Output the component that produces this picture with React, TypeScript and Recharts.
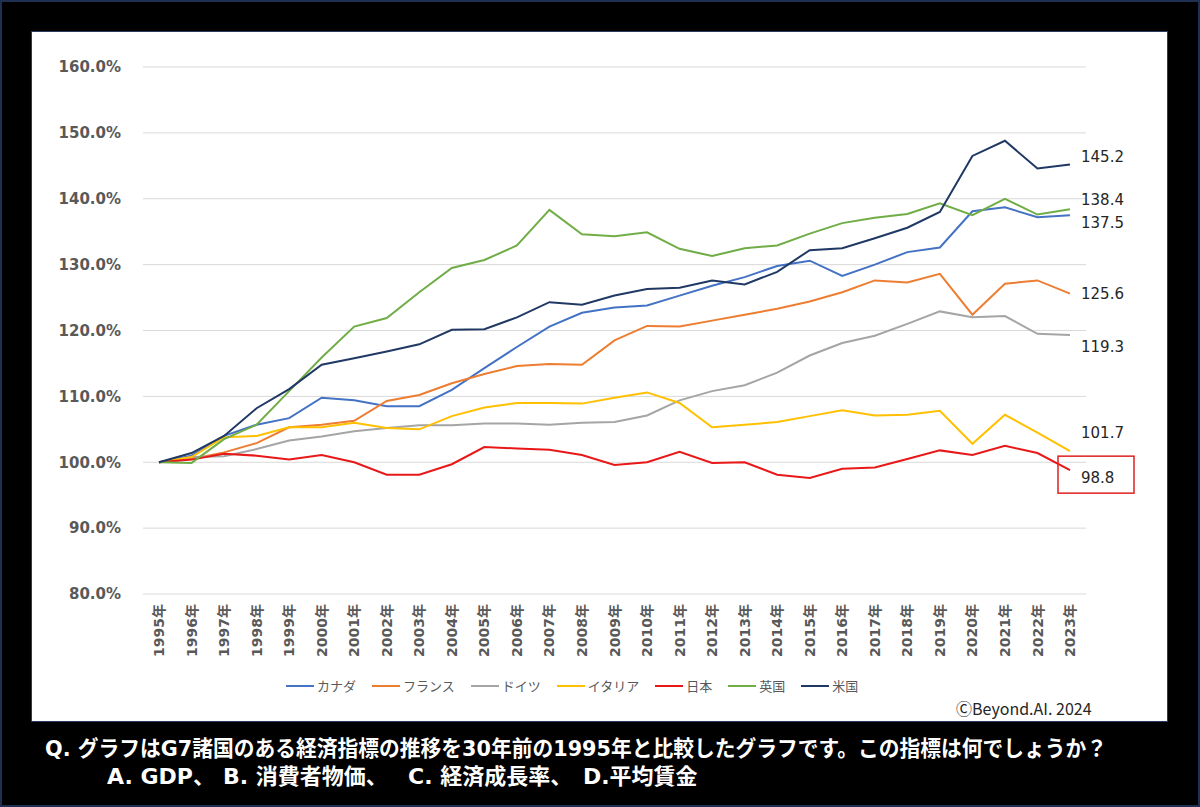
import React from 'react';
import {
    LineChart,
    Line,
    XAxis,
    YAxis,
    CartesianGrid,
    Legend,
} from 'recharts';

const years = [
    '1995年', '1996年', '1997年', '1998年', '1999年', '2000年', '2001年', '2002年', '2003年', '2004年',
    '2005年', '2006年', '2007年', '2008年', '2009年', '2010年', '2011年', '2012年', '2013年', '2014年',
    '2015年', '2016年', '2017年', '2018年', '2019年', '2020年', '2021年', '2022年', '2023年',
];

const canada = [
    100.0, 101.0, 104.0, 105.7, 106.7, 109.8, 109.4, 108.5, 108.5, 111.0,
    114.3, 117.5, 120.6, 122.7, 123.5, 123.8, 125.3, 126.8, 128.1, 129.8,
    130.6, 128.3, 130.0, 131.9, 132.6, 138.1, 138.7, 137.2, 137.5,
];
const france = [
    100.0, 100.5, 101.5, 102.9, 105.3, 105.7, 106.3, 109.3, 110.2, 112.0,
    113.4, 114.6, 114.9, 114.8, 118.5, 120.7, 120.6, 121.5, 122.4, 123.3,
    124.4, 125.8, 127.6, 127.3, 128.6, 122.4, 127.1, 127.6, 125.6,
];
const germany = [
    100.0, 100.8, 100.9, 102.0, 103.3, 103.9, 104.7, 105.2, 105.6, 105.6,
    105.9, 105.9, 105.7, 106.0, 106.1, 107.1, 109.4, 110.8, 111.7, 113.6,
    116.2, 118.1, 119.2, 121.0, 122.9, 122.0, 122.2, 119.5, 119.3,
];
const italy = [
    100.0, 100.8, 103.8, 104.0, 105.3, 105.3, 106.0, 105.2, 105.0, 107.0,
    108.3, 109.0, 109.0, 108.9, 109.8, 110.6, 109.0, 105.3, 105.7, 106.1,
    107.0, 107.9, 107.1, 107.2, 107.8, 102.8, 107.2, 104.5, 101.7,
];
const japan = [
    100.0, 100.4, 101.3, 101.0, 100.4, 101.1, 100.0, 98.1, 98.1, 99.7,
    102.3, 102.1, 101.9, 101.1, 99.6, 100.0, 101.6, 99.9, 100.0, 98.1,
    97.6, 99.0, 99.2, 100.5, 101.8, 101.1, 102.5, 101.4, 98.8,
];
const uk = [
    100.0, 99.9, 103.5, 105.7, 110.8, 115.9, 120.6, 121.9, 125.8, 129.5,
    130.7, 132.9, 138.3, 134.6, 134.3, 134.9, 132.4, 131.3, 132.5, 132.9,
    134.7, 136.3, 137.1, 137.7, 139.3, 137.5, 140.0, 137.6, 138.4,
];
const usa = [
    100.0, 101.4, 104.0, 108.2, 111.1, 114.8, 115.8, 116.8, 117.9, 120.1,
    120.2, 122.0, 124.3, 123.9, 125.3, 126.3, 126.5, 127.6, 127.0, 128.9,
    132.2, 132.5, 134.0, 135.6, 138.0, 146.5, 148.8, 144.6, 145.2,
];

const yTicks = [80, 90, 100, 110, 120, 130, 140, 150, 160];

const question = 'Q. グラフはG7諸国のある経済指標の推移を30年前の1995年と比較したグラフです。この指標は何でしょうか？';
const answers = ['A. GDP、', 'B. 消費者物価、', 'C. 経済成長率、', 'D.平均賃金'];
const credit = 'ⒸBeyond.AI. 2024';

const series = [
    { name: 'カナダ', values: canada, color: '#4472C4', dy: 7 },
    { name: 'フランス', values: france, color: '#ED7D31', dy: 0 },
    { name: 'ドイツ', values: germany, color: '#A5A5A5', dy: 11 },
    { name: 'イタリア', values: italy, color: '#FFC000', dy: -18 },
    { name: '日本', values: japan, color: '#E81818', dy: 7, boxed: true },
    { name: '英国', values: uk, color: '#70AD47', dy: -10 },
    { name: '米国', values: usa, color: '#203864', dy: -8 },
];

const data = years.map((year, i) => {
    const row: Record<string, any> = { year };
    series.forEach((s) => {
        row[s.name] = s.values[i];
    });
    return row;
});

const LAST = years.length - 1;
const labelFont = '"DejaVu Sans", Verdana, sans-serif';
const jpFont = '"Noto Sans CJK JP", "Noto Sans", sans-serif';

// rotated year labels under the axis
const YearTick = ({ x, y, payload }: any) => (
    <g transform={`translate(${x},${y})`}>
        <text
            transform="rotate(-90)"
            x={-10}
            y={0}
            dy="0.36em"
            textAnchor="end"
            fill="#595959"
            fontSize={14}
            fontWeight="bold"
            fontFamily={`"DejaVu Sans", ${jpFont}`}
        >
            {payload.value}
        </text>
    </g>
);

// value written to the right of the last point
const endLabel = (dy: number, boxed?: boolean) => (props: any) => {
    const { x, y, index, value } = props;
    if (index !== LAST || x == null) return null;
    return (
        <g>
            {boxed && (
                <rect x={x - 12} y={y - 14} width={76} height={37} fill="none" stroke="#E02020" strokeWidth={1.5} />
            )}
            <text
                x={x + 11}
                y={y + dy}
                dy="0.36em"
                fill="#262626"
                fontSize={15}
                fontFamily={labelFont}
            >
                {Number(value).toFixed(1)}
            </text>
        </g>
    );
};

// keep the legend in series order (recharts sorts it otherwise)
const renderLegend = () => (
    <div style={{ display: 'flex', alignItems: 'center', fontFamily: jpFont, fontSize: 13, color: '#595959' }}>
        {series.map((s) => (
            <div key={s.name} style={{ display: 'flex', alignItems: 'center', marginRight: 16 }}>
                <div style={{ width: 28, height: 2, background: s.color, marginRight: 3 }} />
                <span>{s.name}</span>
            </div>
        ))}
    </div>
);

export default function App() {
    const answerX = [107, 223, 408, 583];
    return (
        <div
            style={{
                position: 'absolute',
                left: 0,
                top: 0,
                width: 1200,
                height: 807,
                boxSizing: 'border-box',
                background: '#000',
                border: '2px solid #1f2f52',
            }}
        >
            <div
                style={{
                    position: 'absolute',
                    left: 29,
                    top: 29,
                    width: 1137,
                    height: 691,
                    background: '#fff',
                    boxSizing: 'border-box',
                    border: '1px solid #2a3b60',
                }}
            >
                <LineChart
                    width={1135}
                    height={689}
                    data={data}
                    margin={{ top: 35, right: 81, left: 0, bottom: 57 }}
                >
                    <CartesianGrid vertical={false} stroke="#d9d9d9" strokeWidth={1} />
                    <XAxis
                        dataKey="year"
                        interval={0}
                        axisLine={false}
                        tickLine={false}
                        tickSize={0}
                        tickMargin={0}
                        height={70}
                        padding={{ left: 16, right: 16 }}
                        tick={<YearTick />}
                    />
                    <YAxis
                        domain={[80, 160]}
                        ticks={yTicks}
                        width={111}
                        axisLine={false}
                        tickLine={false}
                        tickMargin={16}
                        tickFormatter={(v: number) => `${v.toFixed(1)}%`}
                        tick={{ fill: '#595959', fontSize: 15, fontWeight: 'bold', fontFamily: labelFont }}
                    />
                    <Legend
                        layout="horizontal"
                        verticalAlign="middle"
                        align="center"
                        content={renderLegend}
                        wrapperStyle={{ left: 254, top: 644, width: 'auto', height: 'auto' }}
                    />
                    {series.map((s) => (
                        <Line
                            key={s.name}
                            type="linear"
                            dataKey={s.name}
                            stroke={s.color}
                            strokeWidth={2}
                            dot={false}
                            activeDot={false}
                            isAnimationActive={false}
                            label={endLabel(s.dy, s.boxed)}
                        />
                    ))}
                </LineChart>
                <div
                    style={{
                        position: 'absolute',
                        left: 924,
                        top: 664,
                        fontFamily: jpFont,
                        fontSize: 16,
                        color: '#262626',
                        whiteSpace: 'nowrap',
                    }}
                >
                    {credit}
                </div>
            </div>
            <svg
                width={1196}
                height={80}
                style={{ position: 'absolute', left: 0, top: 720 }}
                fontFamily={`"DejaVu Sans", ${jpFont}`}
                fontWeight="bold"
                fill="#fff"
            >
                <text
                    x={43}
                    y={26}
                    dy="0.36em"
                    fontSize={21.5}
                    textLength={1062}
                    lengthAdjust="spacingAndGlyphs"
                >
                    {question}
                </text>
                {answers.map((a, i) => (
                    <text key={a} x={answerX[i] - 2} y={54} dy="0.36em" fontSize={22}>
                        {a}
                    </text>
                ))}
            </svg>
        </div>
    );
}
